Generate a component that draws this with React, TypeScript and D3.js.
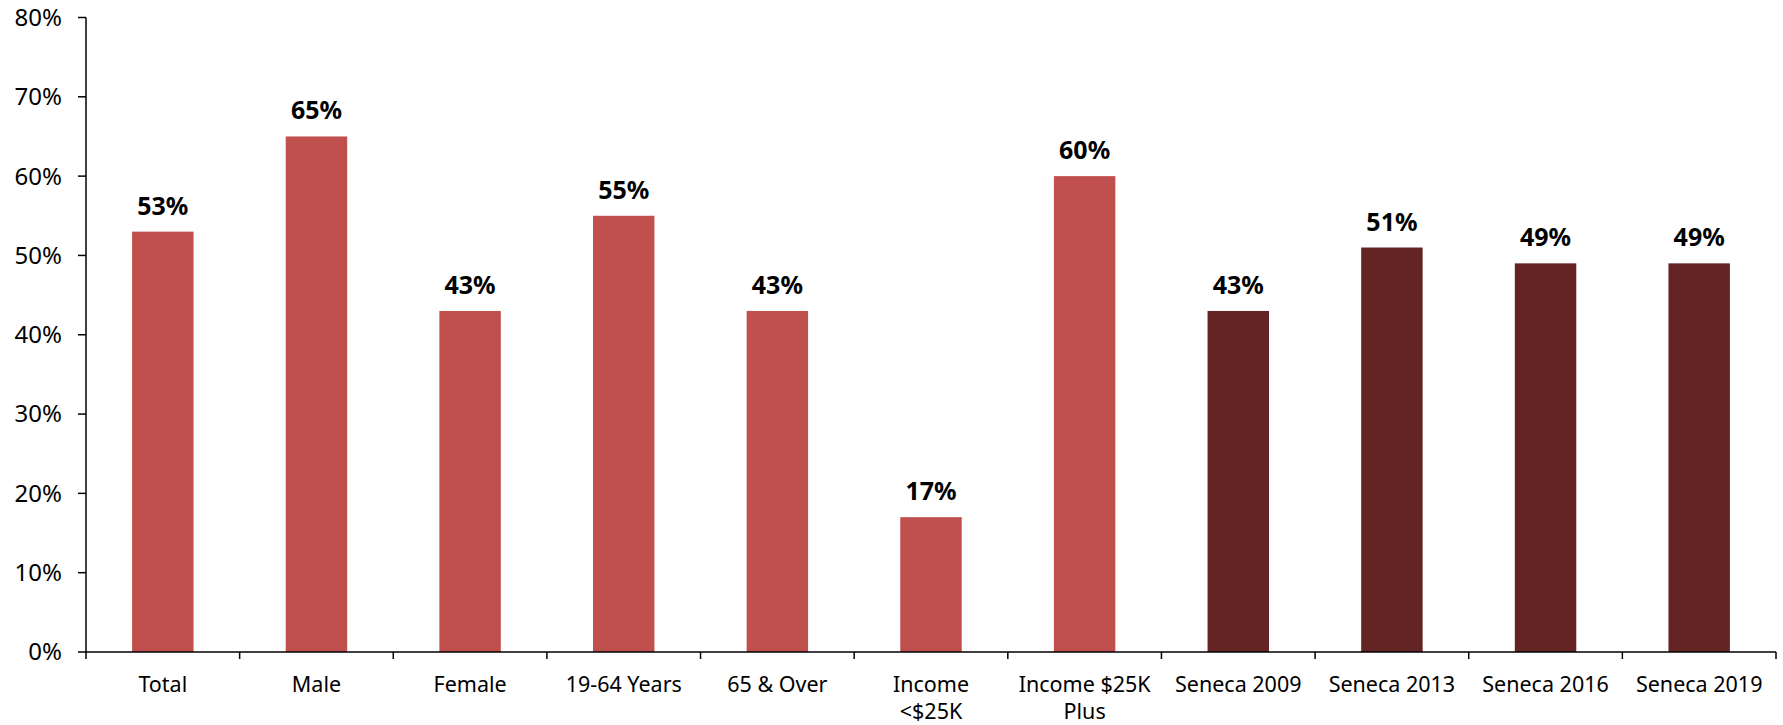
import { useEffect, useRef } from 'react'
import * as d3 from 'd3'

const categories = [
  'Total', 'Male', 'Female', '19-64 Years', '65 & Over', 'Income\n<$25K',
  'Income $25K\nPlus', 'Seneca 2009', 'Seneca 2013', 'Seneca 2016', 'Seneca 2019',
]
const values = [53, 65, 43, 55, 43, 17, 60, 43, 51, 49, 49]
const isSeneca = [false, false, false, false, false, false, false, true, true, true, true]
const yTicks = [0, 10, 20, 30, 40, 50, 60, 70, 80]

const LIGHT = '#C0504D'
const DARK = '#632423'
const FONT = '"Noto Sans", "Open Sans", sans-serif'

export default function App() {
  const ref = useRef<SVGSVGElement>(null)

  useEffect(() => {
    const svg = d3.select(ref.current!)
    svg.selectAll('*').remove()

    const W = 1783
    const H = 725
    const m = { l: 86, r: 7, t: 17.5, b: 73 }

    const x = d3.scaleBand().domain(categories).range([m.l, W - m.r]).paddingInner(0).paddingOuter(0)
    const y = d3.scaleLinear().domain([0, 80]).range([H - m.b, m.t])

    svg.attr('width', W).attr('height', H)

    // bars
    const bw = x.bandwidth() * 0.4
    svg.append('g')
      .selectAll('rect')
      .data(values)
      .join('rect')
      .attr('x', (_, i) => x(categories[i])! + (x.bandwidth() - bw) / 2)
      .attr('y', d => y(d))
      .attr('width', bw)
      .attr('height', d => y(0) - y(d))
      .attr('fill', (_, i) => (isSeneca[i] ? DARK : LIGHT))

    // value labels
    svg.append('g')
      .selectAll('text')
      .data(values)
      .join('text')
      .attr('x', (_, i) => x(categories[i])! + x.bandwidth() / 2)
      .attr('y', d => y(d) - 17)
      .attr('text-anchor', 'middle')
      .attr('font-family', FONT)
      .attr('font-weight', 'bold')
      .attr('font-size', 25)
      .attr('fill', '#000')
      .text(d => `${d}%`)

    // y axis
    const ya = svg.append('g')
    ya.append('line')
      .attr('x1', m.l).attr('x2', m.l)
      .attr('y1', y(80)).attr('y2', y(0))
      .attr('stroke', '#000').attr('stroke-width', 1.5)
    ya.selectAll('line.tick')
      .data(yTicks)
      .join('line')
      .attr('class', 'tick')
      .attr('x1', m.l - 8).attr('x2', m.l)
      .attr('y1', d => y(d)).attr('y2', d => y(d))
      .attr('stroke', '#000').attr('stroke-width', 1.5)
    ya.selectAll('text')
      .data(yTicks)
      .join('text')
      .attr('x', 62)
      .attr('y', d => y(d))
      .attr('dy', '0.35em')
      .attr('text-anchor', 'end')
      .attr('font-family', FONT)
      .attr('font-size', 24)
      .attr('fill', '#000')
      .text(d => `${d}%`)

    // x axis
    const xa = svg.append('g')
    xa.append('line')
      .attr('x1', m.l).attr('x2', W - m.r)
      .attr('y1', y(0)).attr('y2', y(0))
      .attr('stroke', '#000').attr('stroke-width', 1.5)
    const edges = categories.map(c => x(c)!).concat([W - m.r])
    xa.selectAll('line.tick')
      .data(edges)
      .join('line')
      .attr('class', 'tick')
      .attr('x1', d => d).attr('x2', d => d)
      .attr('y1', y(0)).attr('y2', y(0) + 7)
      .attr('stroke', '#000').attr('stroke-width', 1.5)
    const lbl = xa.selectAll('text')
      .data(categories)
      .join('text')
      .attr('x', d => x(d)! + x.bandwidth() / 2)
      .attr('y', y(0) + 40)
      .attr('text-anchor', 'middle')
      .attr('font-family', FONT)
      .attr('font-size', 21.5)
      .attr('fill', '#000')
    lbl.each(function (d) {
      const t = d3.select(this)
      const cx = x(d)! + x.bandwidth() / 2
      d.split('\n').forEach((line, i) => {
        t.append('tspan').attr('x', cx).attr('dy', i === 0 ? 0 : 27).text(line)
      })
    })
  }, [])

  return (
    <svg ref={ref} style={{ position: 'absolute', left: 0, top: 0, background: '#fff' }} />
  )
}
